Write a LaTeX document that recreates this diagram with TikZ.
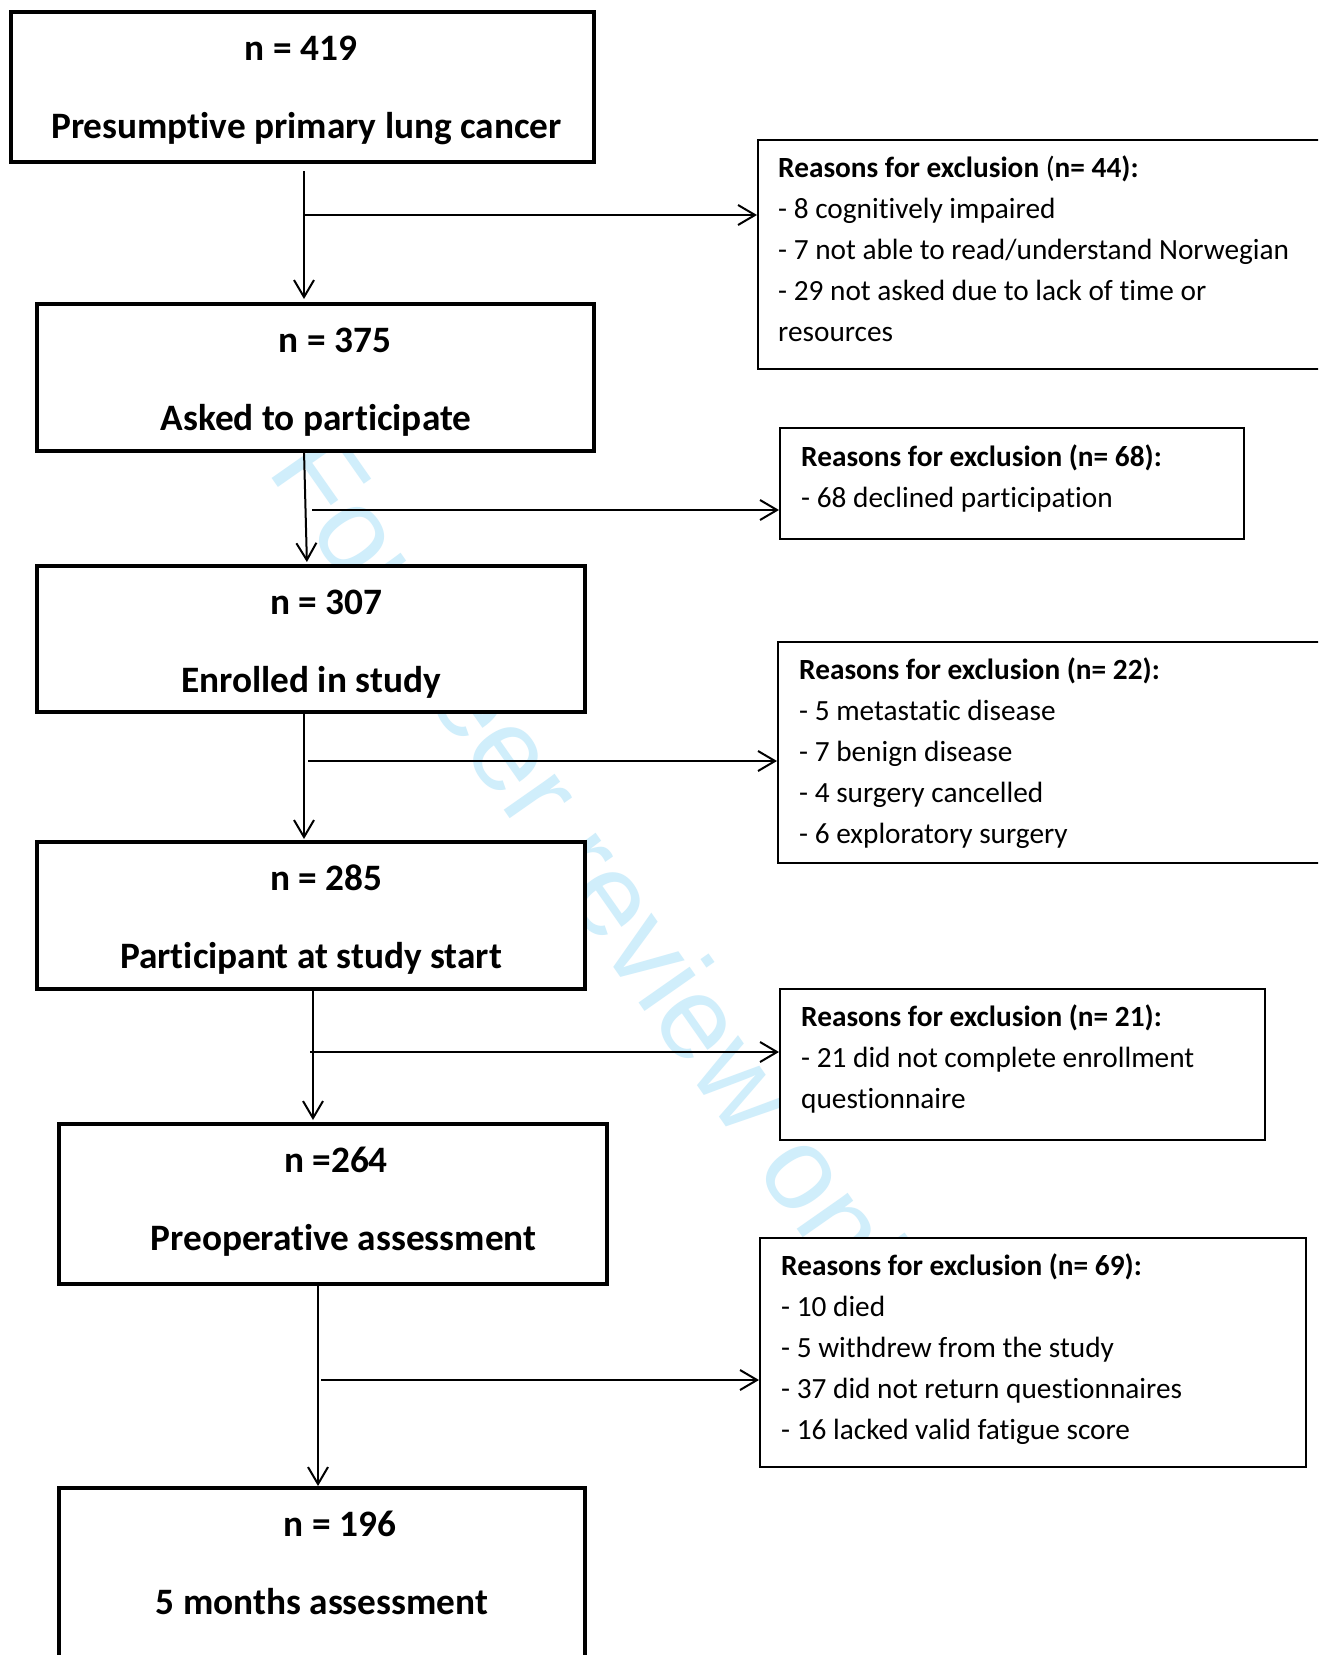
\documentclass[tikz,border=0pt]{standalone}
\usepackage{fontspec}
\setmainfont{Carlito}[Ligatures=NoCommon]
\newfontfamily\wmfont{Liberation Sans}
\usetikzlibrary{arrows.meta}
\definecolor{wmblue}{RGB}{208,238,251}
\tikzset{
  mainbox/.style={draw, line width=4.8pt, fill=white, anchor=north west, inner sep=0pt, outer sep=0pt},
  exbox/.style={draw, line width=1.5pt, fill=white, anchor=north west, inner sep=0pt, outer sep=0pt},
  maintext/.style={anchor=base, inner sep=0pt, font=\fontsize{37.3}{40}\selectfont\bfseries},
  extext/.style={anchor=base west, inner sep=0pt, font=\fontsize{29.3}{41}\selectfont},
  conn/.style={line width=2pt},
  arr/.style={conn, -{Straight Barb[length=17pt,width=20pt,line width=2pt]}},
  wmtext/.style={font=\wmfont\fontsize{118}{120}\selectfont, text=wmblue, rotate=-55, anchor=base west, inner sep=0pt}
}
\begin{document}
\begin{tikzpicture}[x=1pt,y=-1pt]
\clip (0,0) rectangle (1318,1655);
\fill[white] (0,0) rectangle (1318,1655);
% watermark
\node[wmtext] (wm) at (266,470) {For peer review only};
% main boxes
\node[mainbox, minimum width=583pt, minimum height=150pt] (b1) at (11,12) {};
\node[mainbox, minimum width=557pt, minimum height=147pt] (b2) at (37,304) {};
\node[mainbox, minimum width=548pt, minimum height=146pt] (b3) at (37,566) {};
\node[mainbox, minimum width=548pt, minimum height=147pt] (b4) at (37,842) {};
\node[mainbox, minimum width=548pt, minimum height=160pt] (b5) at (59,1124) {};
\node[mainbox, minimum width=526pt, minimum height=220pt] (b6) at (59,1488) {};
% exclusion boxes
\node[exbox, minimum width=600pt, minimum height=229pt] (e1) at (758,140) {};
\node[exbox, minimum width=464pt, minimum height=111pt] (e2) at (780,428) {};
\node[exbox, minimum width=600pt, minimum height=221pt] (e3) at (778,642) {};
\node[exbox, minimum width=485pt, minimum height=151pt] (e4) at (780,989) {};
\node[exbox, minimum width=546pt, minimum height=229pt] (e5) at (760,1238) {};
% main texts
\node[maintext] (b1a) at (301,60) {n = 419};
\node[maintext] (b1b) at (306.5,138) {Presumptive primary lung cancer};
\node[maintext] (b2a) at (335,352) {n = 375};
\node[maintext] (b2b) at (316,430) {Asked to participate};
\node[maintext] (b3a) at (326.6,614) {n = 307};
\node[maintext] (b3b) at (311,692) {Enrolled in study};
\node[maintext] (b4a) at (326.6,890) {n = 285};
\node[maintext] (b4b) at (311,968) {Participant at study start};
\node[maintext] (b5a) at (336,1172) {n =264};
\node[maintext] (b5b) at (343.5,1250) {Preoperative assessment};
\node[maintext] (b6a) at (340,1536) {n = 196};
\node[maintext] (b6b) at (322,1614) {5 months assessment};
% exclusion texts
\node[extext] (e1t) at (778,177) {\parbox[t]{560pt}{\raggedright
  \textbf{Reasons for exclusion }(\textbf{n= 44):}\\
  - 8 cognitively impaired\\
  - 7 not able to read/understand Norwegian\\
  - 29 not asked due to lack of time or\\
  resources}};
\node[extext] (e2t) at (801,466) {\parbox[t]{440pt}{\raggedright
  \textbf{Reasons for exclusion (n= 68):}\\
  - 68 declined participation}};
\node[extext] (e3t) at (799,679) {\parbox[t]{520pt}{\raggedright
  \textbf{Reasons for exclusion (n= 22):}\\
  - 5 metastatic disease\\
  - 7 benign disease\\
  - 4 surgery cancelled\\
  - 6 exploratory surgery}};
\node[extext] (e4t) at (801,1026) {\parbox[t]{460pt}{\raggedright
  \textbf{Reasons for exclusion (n= 21):}\\
  - 21 did not complete enrollment\\
  questionnaire}};
\node[extext] (e5t) at (781,1275) {\parbox[t]{520pt}{\raggedright
  \textbf{Reasons for exclusion (n= 69):}\\
  - 10 died\\
  - 5 withdrew from the study\\
  - 37 did not return questionnaires\\
  - 16 lacked valid fatigue score}};
% connector coordinates
\coordinate (x1) at (304,0);
\coordinate (x2a) at (304,0);
\coordinate (x2b) at (307,0);
\coordinate (x3) at (304,0);
\coordinate (x4) at (313,0);
\coordinate (x5) at (318,0);
\coordinate (h1) at (304,215);
\coordinate (h2) at (312,510);
\coordinate (h3) at (308,761);
\coordinate (h4) at (310,1052);
\coordinate (h5) at (321,1380);
% vertical arrows
\draw[arr, shorten >=5pt] (b1.south -| x1) ++(0,9) -- (b2.north -| x1);
\draw[arr, shorten >=4pt] (b2.south -| x2a) -- (b3.north -| x2b);
\draw[arr, shorten >=3pt] (b3.south -| x3) -- (b4.north -| x3);
\draw[arr, shorten >=4pt] (b4.south -| x4) -- (b5.north -| x4);
\draw[arr, shorten >=2pt] (b5.south -| x5) -- (b6.north -| x5);
% branch arrows
\draw[arr, shorten >=1pt] (h1) -- (h1 -| e1.west);
\draw[arr, shorten >=1pt] (h2) -- (h2 -| e2.west);
\draw[arr, shorten >=1pt] (h3) -- (h3 -| e3.west);
\draw[arr, shorten >=1pt] (h4) -- (h4 -| e4.west);
\draw[arr, shorten >=1pt] (h5) -- (h5 -| e5.west);
\end{tikzpicture}
\end{document}
